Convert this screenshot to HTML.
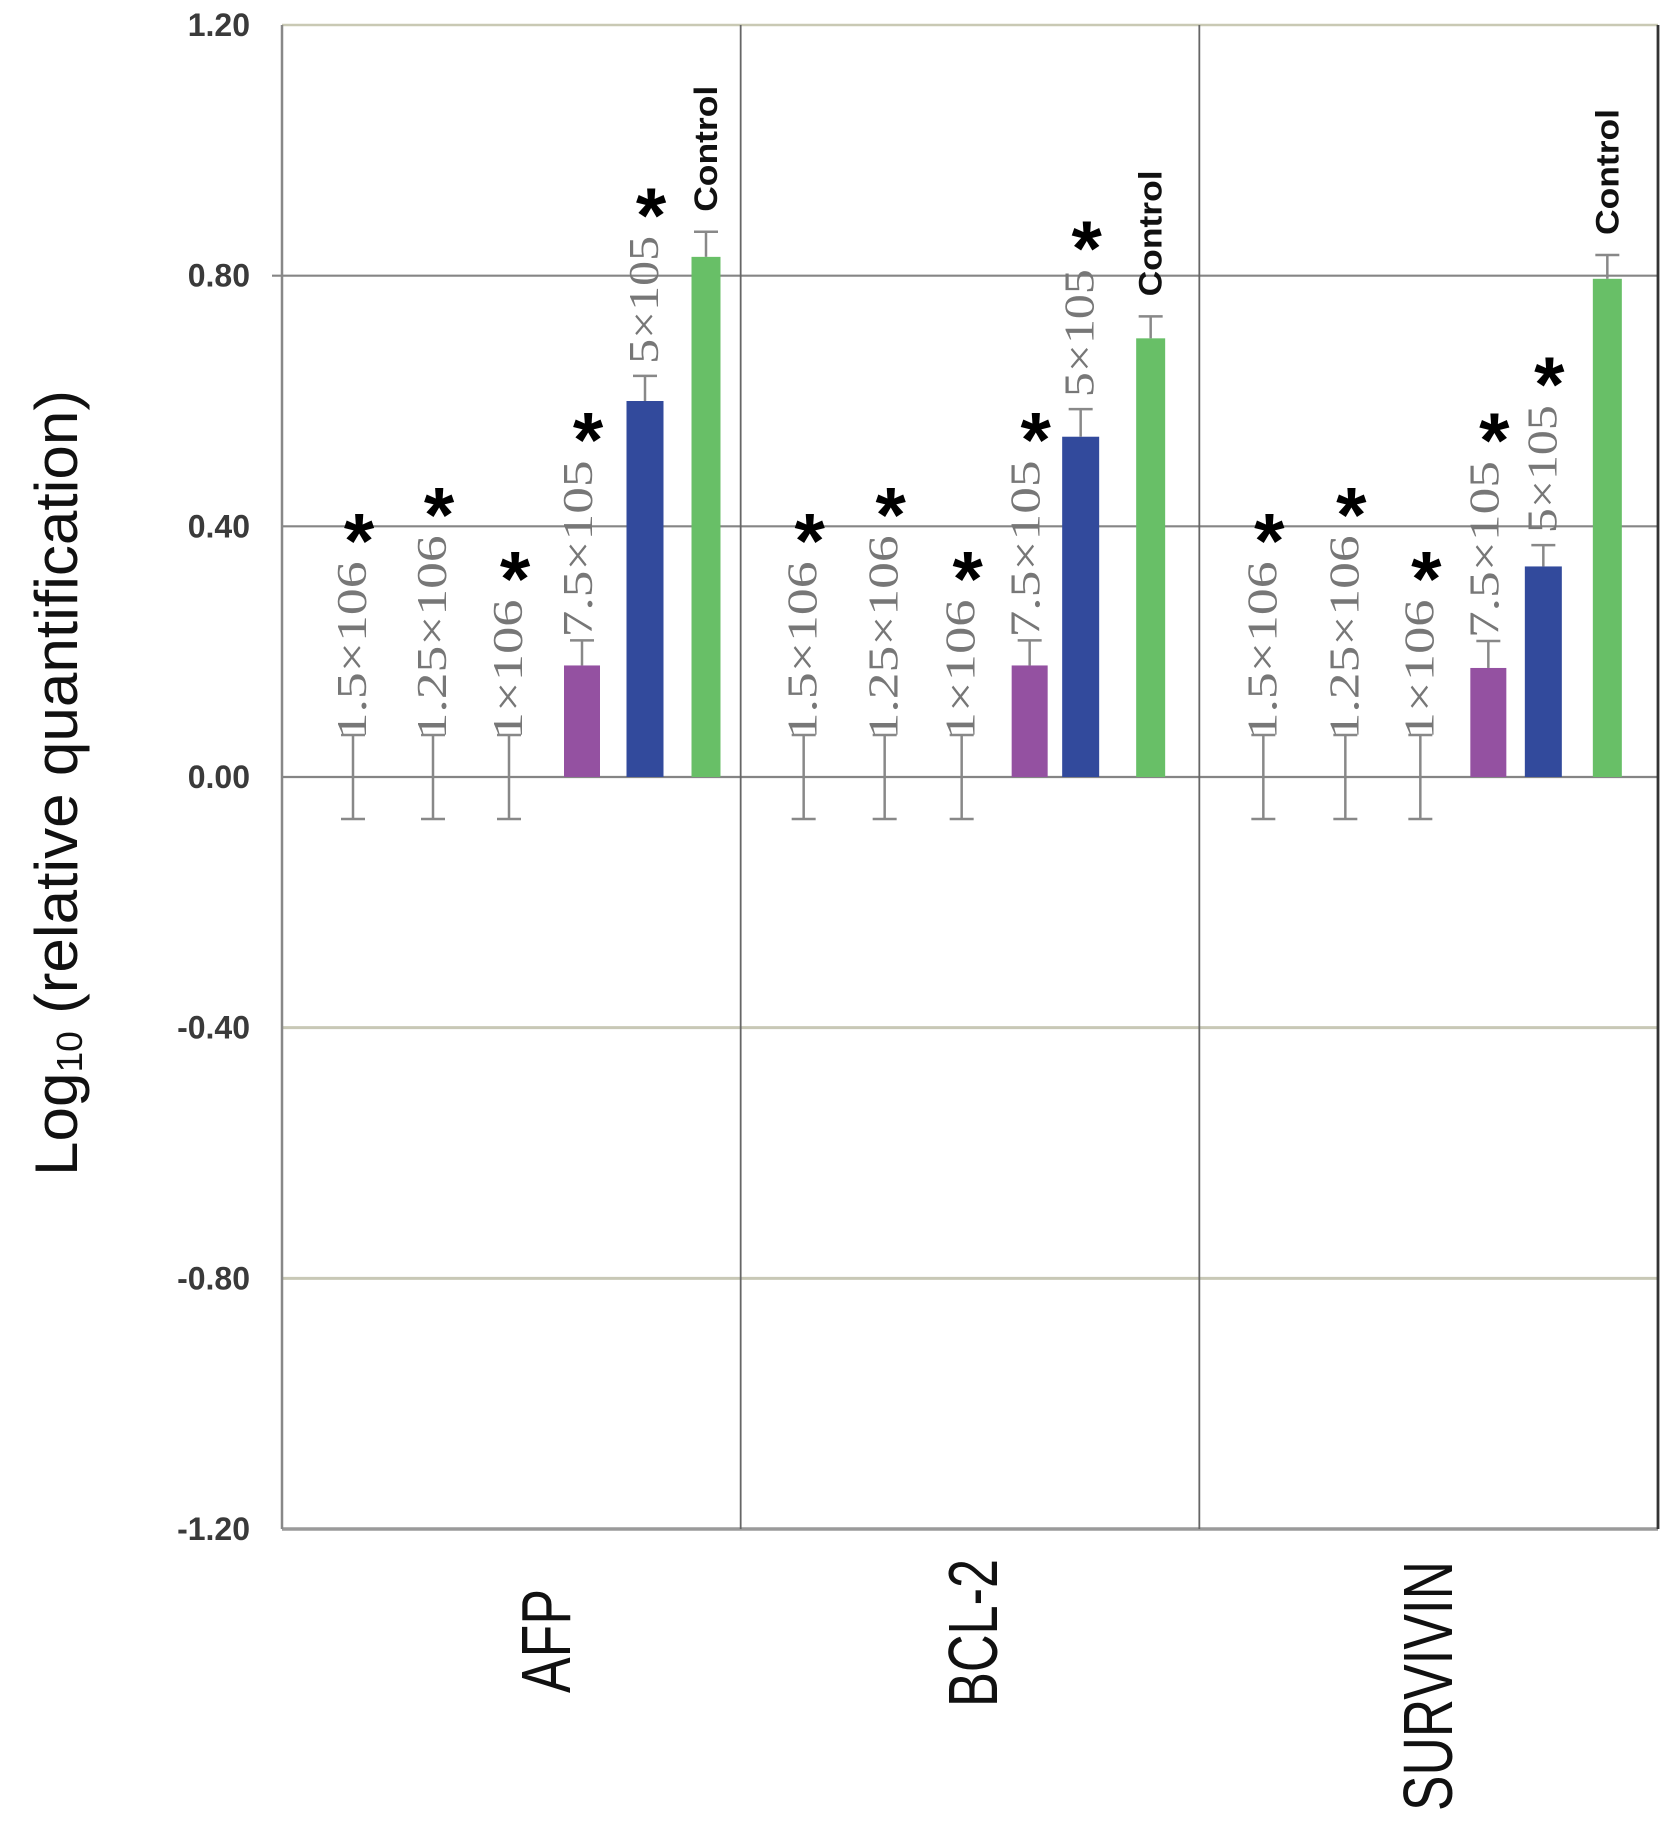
<!DOCTYPE html>
<html><head><meta charset="utf-8"><style>
html,body{margin:0;padding:0;background:#fff;}
svg{display:block;}
</style></head><body>
<svg id="chart" width="1677" height="1826" viewBox="0 0 1677 1826" xmlns="http://www.w3.org/2000/svg"></svg>
<script>
const categories = ["AFP", "BCL-2", "SURVIVIN"];
const doseLabels = ["1.5×106", "1.25×106", "1×106", "7.5×105", "5×105", "Control"];
const afpValues = [0, 0, 0, 0.178, 0.60, 0.83];
const afpErrors = [0.067, 0.067, 0.067, 0.04, 0.04, 0.04];
const bclValues = [0, 0, 0, 0.178, 0.543, 0.70];
const bclErrors = [0.067, 0.067, 0.067, 0.04, 0.044, 0.035];
const survValues = [0, 0, 0, 0.174, 0.336, 0.795];
const survErrors = [0.067, 0.067, 0.067, 0.043, 0.034, 0.038];
const significant = [true, true, true, true, true, false];
const yTicks = [1.2, 0.8, 0.4, 0, -0.4, -0.8, -1.2];
const yTickLabels = ["1.20", "0.80", "0.40", "0.00", "-0.40", "-0.80", "-1.20"];

const NS = "http://www.w3.org/2000/svg";
const svg = document.getElementById("chart");
const plotL = 282, plotR = 1658, yTop = 25, yBot = 1529;
const yMin = -1.2, yMax = 1.2;
function yScale(v){ return yBot - (v - yMin) / (yMax - yMin) * (yBot - yTop); }
const groupW = (plotR - plotL) / categories.length;
function groupX(i){ return plotL + i * groupW; }
const slotOffsetsByGroup = [
  [71, 151, 227, 300, 363, 424],
  [63, 144, 221, 289, 340, 410],
  [64, 146, 221, 289, 344, 408]
];
const slotWidths = [0, 0, 0, 36, 37, 29];
const colors = ["#999", "#999", "#999", "#9451a1", "#324a9c", "#68bf67"];
const allValues = [afpValues, bclValues, survValues];
const allErrors = [afpErrors, bclErrors, survErrors];

function mk(tag, attrs, parent){
  const e = document.createElementNS(NS, tag);
  for (const k in attrs) e.setAttribute(k, attrs[k]);
  (parent || svg).appendChild(e);
  return e;
}

yTicks.forEach((t, i) => {
  const y = yScale(t);
  let stroke = "#858585", w = 2.2;
  if (t === 1.2) { stroke = "#c9c9b4"; w = 2.5; }
  if (t === -0.4 || t === -0.8) { stroke = "#c8c8b6"; w = 3; }
  if (t === -1.2) { stroke = "#9a9a9a"; w = 3.5; }
  const g = mk("line", {x1: t === 0.8 ? 272 : plotL, x2: plotR, y1: y, y2: y, stroke: stroke, "stroke-width": w});
  
  
  const lab = mk("text", {x: 250, y: y + 11, "text-anchor": "end", "font-family": "Liberation Sans, sans-serif", "font-size": 32, "font-weight": "bold", fill: "#3a3a3a"});
  lab.textContent = yTickLabels[i];
  
  
});

let ax = mk("line", {x1: plotL, x2: plotL, y1: yTop, y2: yBot, stroke: "#888", "stroke-width": 2.5});


for (let i = 1; i < categories.length; i++) {
  const d = mk("line", {x1: groupX(i), x2: groupX(i), y1: yTop, y2: yBot, stroke: "#666", "stroke-width": 1.8});
  
  
}
let rb = mk("line", {x1: plotR, x2: plotR, y1: yTop, y2: yBot, stroke: "#333", "stroke-width": 2.8});



categories.forEach((cat, gi) => {
  const vals = allValues[gi], errs = allErrors[gi];
  const gx = groupX(gi);
  const slotOffsets = slotOffsetsByGroup[gi];
  for (let s = 0; s < doseLabels.length; s++) {
    const cx = gx + slotOffsets[s];
    const v = vals[s], e = errs[s];
    const bw = slotWidths[s];
    if (v !== 0) {
      const r = mk("rect", {x: cx - bw / 2, y: yScale(v), width: bw, height: yScale(0) - yScale(v), fill: colors[s]});
      
      
    }
    const lo = v === 0 ? v - e : v;
    const eb = mk("g", {stroke: "#888", "stroke-width": 2.5});
    
    
    mk("line", {x1: cx, x2: cx, y1: yScale(lo), y2: yScale(v + e)}, eb);
    mk("line", {x1: cx - 12, x2: cx + 12, y1: yScale(v + e), y2: yScale(v + e)}, eb);
    if (v === 0) mk("line", {x1: cx - 12, x2: cx + 12, y1: yScale(v - e), y2: yScale(v - e)}, eb);

    let bottom, isCtrl = s === 5;
    const lens = [178, 204, 140, 177, 128, 126];
    const len = lens[s];
    if (v === 0) bottom = yScale(0.06);
    else if (s === 3) bottom = yScale(v + e) - 3;
    else if (s === 4) bottom = yScale(v + e) - 12;
    else bottom = yScale(v + e) - 20;
    const tx = s === 3 ? cx - 3 : cx;
    const t = mk("text", {x: tx, y: bottom, transform: "rotate(-90 " + tx + " " + bottom + ")",
      "dominant-baseline": "central",
      "font-family": isCtrl ? "Liberation Sans, sans-serif" : "Liberation Serif, serif",
      "font-weight": isCtrl ? "bold" : "normal",
      "font-size": isCtrl ? 32 : 42, fill: isCtrl ? "#111" : "#777",
      textLength: len, lengthAdjust: "spacingAndGlyphs"});
    t.textContent = doseLabels[s];
    
    

    if (significant[s]) {
      const cyA = bottom - len - 36;
      const a = mk("text", {x: cx + 6, y: cyA + 42, "text-anchor": "middle", "font-family": "Liberation Sans, sans-serif",
        "font-weight": "bold", "font-size": 78, fill: "#000"});
      a.textContent = "*";
      
      
    }
  }
  const lx = [546, 973, 1428][gi];
  const lb = [1693, 1707, 1811][gi];
  const ll = [104, 148, 250][gi];
  const c = mk("text", {x: lx, y: lb, transform: "rotate(-90 " + lx + " " + lb + ")", "dominant-baseline": "central",
    "font-family": "Liberation Sans, sans-serif", "font-size": 70, fill: "#111", textLength: ll, lengthAdjust: "spacingAndGlyphs"});
  c.textContent = cat;
  
  
});

const yt = mk("text", {x: 56, y: 1176, transform: "rotate(-90 56 1176)", "text-anchor": "start", "dominant-baseline": "central",
  "font-family": "Liberation Sans, sans-serif", "font-size": 60, fill: "#111", textLength: 786, lengthAdjust: "spacingAndGlyphs"});


const t1 = mk("tspan", {}, yt); t1.textContent = "Log";
const t2 = mk("tspan", {"font-size": 36, dy: 13}, yt); t2.textContent = "10";
const t3 = mk("tspan", {dy: -13}, yt); t3.textContent = " (relative quantification)";
</script>
</body></html>
